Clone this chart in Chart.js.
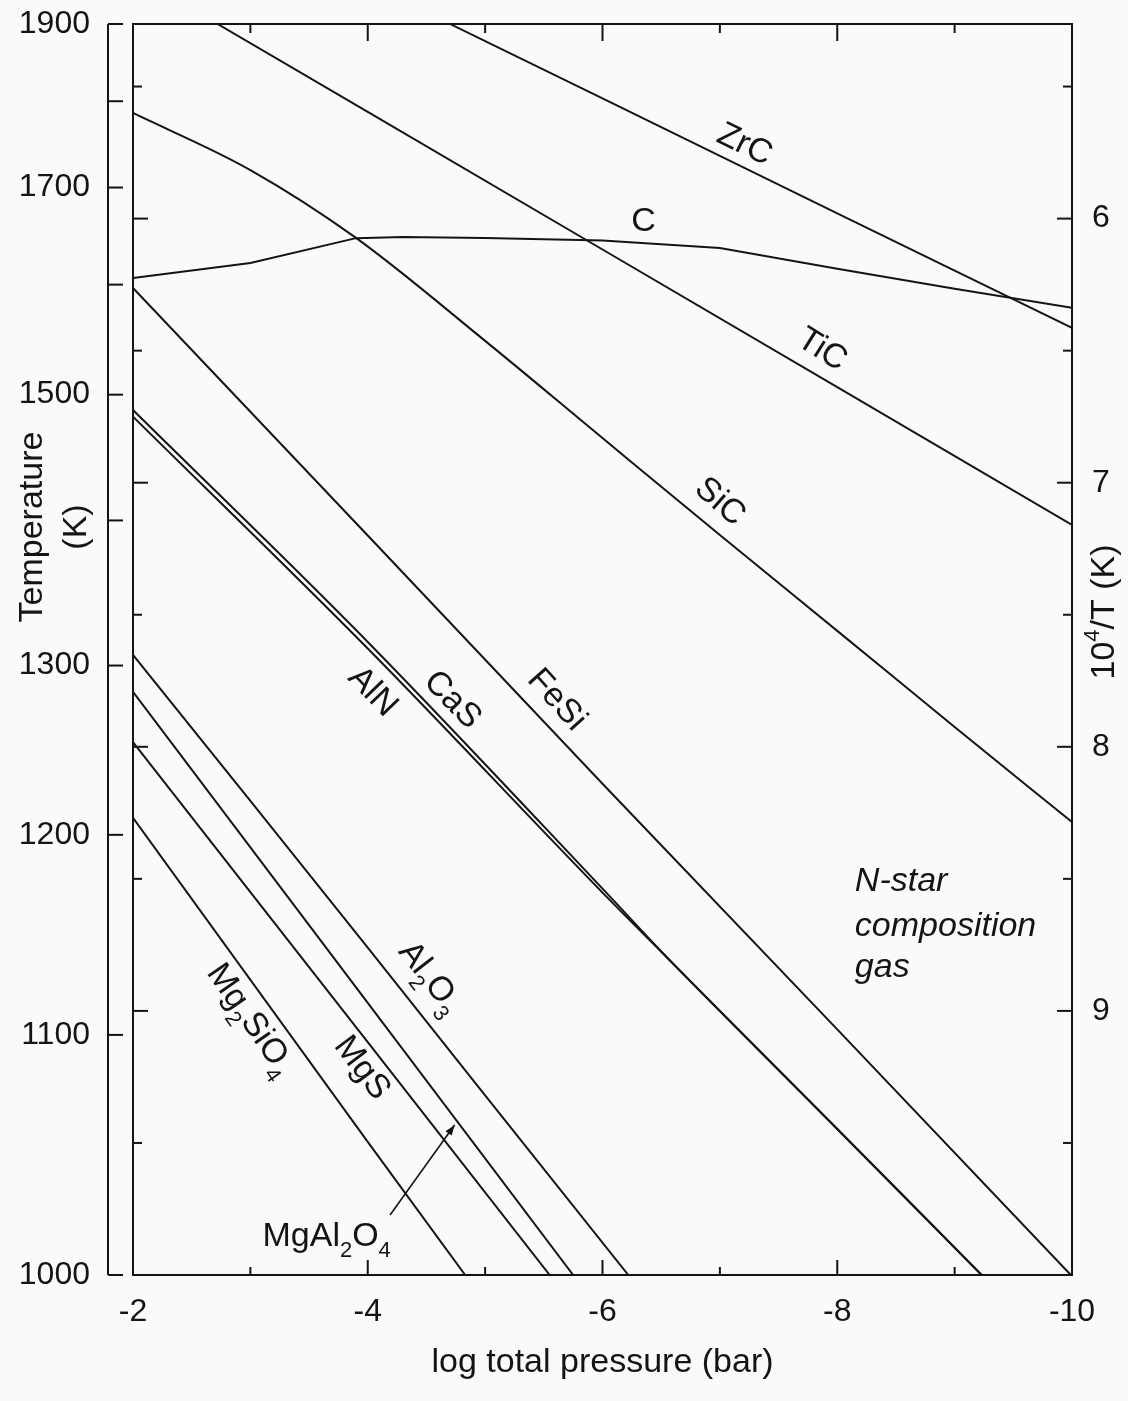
<!DOCTYPE html>
<html>
<head>
<meta charset="utf-8">
<script src="https://cdn.jsdelivr.net/npm/chart.js@4.4.1/dist/chart.umd.min.js"></script>
<style>
  html, body { margin: 0; padding: 0; background: #fafafa; }
  #wrap { width: 1128px; height: 1401px; }
</style>
</head>
<body>
<div id="wrap"><canvas id="chart"></canvas></div>
<script>
// log total pressure (bar) vs 10^4/T (K)
const zrcP = [-4.70, -6, -8, -10];
const zrcInvT = [5.263, 5.545, 5.980, 6.414];

const ticP = [-2.72, -4, -6, -8, -10];
const ticInvT = [5.263, 5.596, 6.117, 6.638, 7.160];

const cP = [-2, -3, -3.9, -4.3, -5, -6, -7, -8, -9, -10];
const cInvT = [6.225, 6.168, 6.074, 6.070, 6.073, 6.083, 6.111, 6.190, 6.266, 6.338];

const sicP = [-2, -3, -3.9, -5, -6, -7, -8, -9, -10];
const sicInvT = [5.600, 5.816, 6.073, 6.463, 6.831, 7.198, 7.561, 7.925, 8.285];

const fesiP = [-2, -4, -6, -8, -9.99];
const fesiInvT = [6.263, 7.200, 8.140, 9.070, 10.0];

const casP = [-2, -4, -6, -6.57, -8, -9.23];
const casInvT = [6.725, 7.603, 8.537, 8.807, 9.447, 10.0];

const alnP = [-2, -4, -6, -6.57, -8, -9.23];
const alnInvT = [6.750, 7.628, 8.552, 8.807, 9.447, 10.0];

const al2o3P = [-2, -3, -4, -5, -6.22];
const al2o3InvT = [7.652, 8.205, 8.760, 9.320, 10.0];

const spinelP = [-2, -4, -5.75];
const spinelInvT = [7.792, 8.970, 10.0];

const mgsP = [-2, -4, -5.55];
const mgsInvT = [7.982, 9.118, 10.0];

const forsteriteP = [-2, -4, -4.83];
const forsteriteInvT = [8.269, 9.496, 10.0];

// axes
const pTicks = [-2, -3, -4, -5, -6, -7, -8, -9, -10];
const pLabels = [-2, -4, -6, -8, -10];
const tempTicks = [1900, 1800, 1700, 1600, 1500, 1400, 1300, 1200, 1100, 1000];
const tempLabels = [1900, 1700, 1500, 1300, 1200, 1100, 1000];
const invTTicks = [5.5, 6, 6.5, 7, 7.5, 8, 8.5, 9, 9.5];
const invTLabels = [6, 7, 8, 9];

const FONT = '"Liberation Sans", Arial, Helvetica, sans-serif';
const ink = '#141414';

// name, pressures, values, smooth?
const series = [
  ['ZrC', zrcP, zrcInvT, false],
  ['TiC', ticP, ticInvT, false],
  ['C', cP, cInvT, false],
  ['SiC', sicP, sicInvT, true],
  ['FeSi', fesiP, fesiInvT, false],
  ['CaS', casP, casInvT, true],
  ['AlN', alnP, alnInvT, true],
  ['Al2O3', al2o3P, al2o3InvT, false],
  ['MgAl2O4', spinelP, spinelInvT, false],
  ['MgS', mgsP, mgsInvT, false],
  ['Mg2SiO4', forsteriteP, forsteriteInvT, false],
];

// curve labels, placed in data units
const curveLabels = [
  { text: 'ZrC', p: -7.21, v: 5.721, rot: 26 },
  { text: 'C', p: -6.35, v: 6.013, rot: 0 },
  { text: 'TiC', p: -7.87, v: 6.497, rot: 32 },
  { text: 'SiC', p: -7.00, v: 7.073, rot: 41 },
  { text: 'FeSi', p: -5.61, v: 7.823, rot: 48 },
  { text: 'CaS', p: -4.72, v: 7.823, rot: 46 },
  { text: 'AlN', p: -4.04, v: 7.792, rot: 46 },
  { text: 'Al2O3', p: -4.53, v: 8.875, rot: 52 },
  { text: 'MgS', p: -3.95, v: 9.216, rot: 53 },
  { text: 'Mg2SiO4', p: -3.00, v: 9.034, rot: 55 },
  { text: 'MgAl2O4', p: -3.65, v: 9.856, rot: 0 },
];
const gasLines = ['N-star', 'composition', 'gas'];

function drawRich(ctx, pieces, x, y, deg, size, italic) {
  const big = (italic ? 'italic ' : '') + size + 'px ' + FONT;
  const small = Math.round(size * 0.64) + 'px ' + FONT;
  let w = 0;
  pieces.forEach(([t, mode]) => {
    ctx.font = mode ? small : big;
    w += ctx.measureText(t).width;
  });
  ctx.save();
  ctx.translate(x, y);
  ctx.rotate(deg * Math.PI / 180);
  ctx.fillStyle = ink;
  ctx.textBaseline = 'middle';
  ctx.textAlign = 'left';
  let cx = -w / 2;
  pieces.forEach(([t, mode]) => {
    ctx.font = mode ? small : big;
    const dy = mode === 1 ? size * 0.42 : mode === 2 ? -size * 0.36 : 0;
    ctx.fillText(t, cx, dy);
    cx += ctx.measureText(t).width;
  });
  ctx.restore();
}

function formula(text) {
  return text.match(/[^\d]+|\d+/g).map(t => [t, /\d/.test(t) ? 1 : 0]);
}

const noPad = s => { s.paddingTop = 0; s.paddingBottom = 0; s.paddingLeft = 0; s.paddingRight = 0; };

const decorations = {
  id: 'decorations',
  beforeDraw(chart) {
    const { ctx, width, height } = chart;
    ctx.save();
    ctx.fillStyle = '#fafafa';
    ctx.fillRect(0, 0, width, height);
    ctx.restore();
  },
  afterDatasetsDraw(chart) {
    const { ctx, chartArea: a, scales: { x, yT, yInv } } = chart;
    const seg = (x1, y1, x2, y2) => {
      ctx.beginPath(); ctx.moveTo(x1, y1); ctx.lineTo(x2, y2); ctx.stroke();
    };
    ctx.save();
    ctx.strokeStyle = ink;
    ctx.lineWidth = 2;
    ctx.strokeRect(a.left, a.top, a.right - a.left, a.bottom - a.top);

    x.ticks.forEach(t => {
      if (t.value === -2 || t.value === -10) return;
      const px = x.getPixelForValue(t.value);
      const major = pLabels.includes(t.value);
      seg(px, a.bottom, px, a.bottom - (major ? 15 : 8));
      seg(px, a.top, px, a.top + (major ? 17 : 9));
    });
    yInv.ticks.forEach(t => {
      const py = yInv.getPixelForValue(t.value);
      const major = invTLabels.includes(t.value);
      seg(a.left, py, a.left + (major ? 15 : 9), py);
      seg(a.right, py, a.right - (major ? 15 : 9), py);
    });

    // outer temperature axis
    const ox = a.left - 25;
    const yTop = yT.getPixelForValue(yT.ticks[0].value);
    const yBot = yT.getPixelForValue(yT.ticks[yT.ticks.length - 1].value);
    seg(ox, yTop, ox, yBot);
    yT.ticks.forEach(t => {
      const py = yT.getPixelForValue(t.value);
      seg(ox, py, ox + 15, py);
    });

    // curve labels
    curveLabels.forEach(l => {
      drawRich(ctx, formula(l.text), x.getPixelForValue(l.p), yInv.getPixelForValue(l.v), l.rot, 34, false);
    });

    // arrow to MgAl2O4
    const ax1 = x.getPixelForValue(-4.19), ay1 = yInv.getPixelForValue(9.773);
    const ax2 = x.getPixelForValue(-4.74), ay2 = yInv.getPixelForValue(9.432);
    ctx.lineWidth = 1.6;
    seg(ax1, ay1, ax2, ay2);
    const ang = Math.atan2(ay2 - ay1, ax2 - ax1);
    ctx.beginPath();
    ctx.moveTo(ax2, ay2);
    ctx.lineTo(ax2 - 11 * Math.cos(ang - 0.35), ay2 - 11 * Math.sin(ang - 0.35));
    ctx.lineTo(ax2 - 11 * Math.cos(ang + 0.35), ay2 - 11 * Math.sin(ang + 0.35));
    ctx.closePath();
    ctx.fillStyle = ink;
    ctx.fill();

    // gas composition note
    ctx.fillStyle = ink;
    ctx.font = 'italic 34px ' + FONT;
    ctx.textAlign = 'left';
    ctx.textBaseline = 'middle';
    const gx = x.getPixelForValue(-8.15);
    [8.512, 8.682, 8.834].forEach((v, i) => ctx.fillText(gasLines[i], gx, yInv.getPixelForValue(v)));

    // left axis title
    ctx.font = '34px ' + FONT;
    ctx.textAlign = 'center';
    const midY = a.top + 503;
    [['Temperature', a.left - 100], ['(K)', a.left - 56]].forEach(([t, tx]) => {
      ctx.save(); ctx.translate(tx, midY); ctx.rotate(-Math.PI / 2);
      ctx.fillText(t, 0, 0); ctx.restore();
    });

    // right axis title
    drawRich(ctx, [['10', 0], ['4', 2], ['/T (K)', 0]], a.right + 33, a.top + 588, -90, 34, false);
    ctx.restore();
  }
};

new Chart(document.getElementById('chart'), {
  type: 'line',
  data: {
    datasets: series.map(([name, p, v, smooth]) => ({
      label: name,
      data: p.map((px, i) => ({ x: px, y: v[i] })),
      yAxisID: 'yInv',
      borderColor: ink,
      borderWidth: 2,
      pointRadius: 0,
      fill: false,
      tension: 0,
      cubicInterpolationMode: smooth ? 'monotone' : 'default'
    }))
  },
  options: {
    responsive: true,
    maintainAspectRatio: false,
    animation: false,
    devicePixelRatio: 1,
    layout: { padding: { top: 24, left: 0, right: 0, bottom: 0 } },
    plugins: { legend: { display: false }, tooltip: { enabled: false } },
    scales: {
      x: {
        type: 'linear', min: -10, max: -2, reverse: true,
        afterBuildTicks: s => { s.ticks = pTicks.map(v => ({ value: v })); },
        afterFit: s => { s.height = 126; noPad(s); },
        grid: { display: false, drawTicks: false },
        border: { display: false },
        ticks: {
          color: ink, font: { family: FONT, size: 32 }, padding: 18,
          autoSkip: false, maxRotation: 0,
          callback: v => pLabels.includes(v) ? String(v) : ''
        },
        title: {
          display: true, text: 'log total pressure (bar)', color: ink,
          font: { family: FONT, size: 34 }, padding: { top: 0, bottom: 18 }
        }
      },
      yT: {
        type: 'linear', position: 'left', min: 1e4 / 1900, max: 1e4 / 1000, reverse: true,
        afterBuildTicks: s => { s.ticks = tempTicks.map(t => ({ value: 1e4 / t })); },
        afterFit: s => { s.width = 133; noPad(s); },
        grid: { display: false, drawTicks: false },
        border: { display: false },
        ticks: {
          color: ink, font: { family: FONT, size: 32 }, padding: 43, autoSkip: false,
          callback: v => {
            const t = Math.round(1e4 / v);
            return tempLabels.includes(t) ? String(t) : '';
          }
        }
      },
      yInv: {
        type: 'linear', position: 'right', min: 1e4 / 1900, max: 1e4 / 1000, reverse: true,
        afterBuildTicks: s => { s.ticks = invTTicks.map(v => ({ value: v })); },
        afterFit: s => { s.width = 56; noPad(s); },
        grid: { display: false, drawTicks: false },
        border: { display: false },
        ticks: {
          color: ink, font: { family: FONT, size: 32 }, padding: 20, autoSkip: false,
          callback: v => invTLabels.includes(v) ? String(v) : ''
        }
      }
    }
  },
  plugins: [decorations]
});
</script>
</body>
</html>
